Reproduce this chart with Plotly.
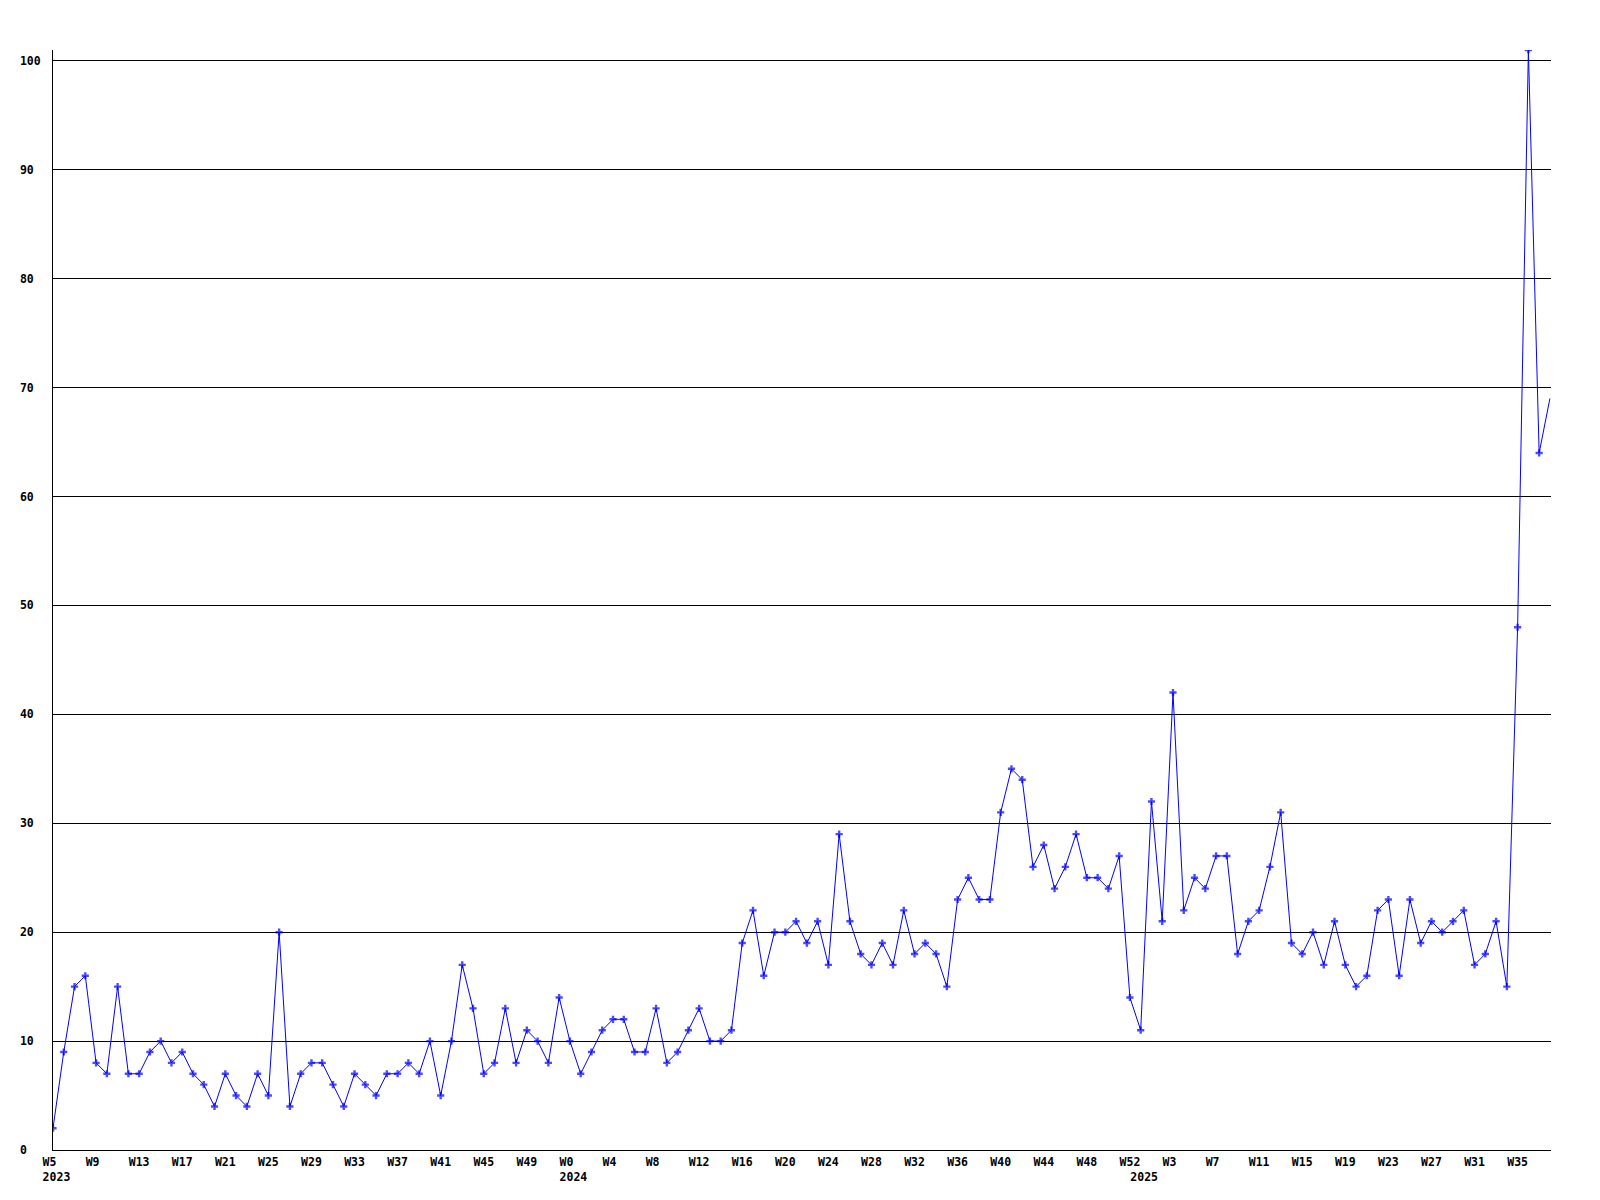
import plotly.graph_objects as go

# Weekly counts, 2023 W5 .. 2025 W38
counts = [
    2, 9, 15, 16, 8, 7, 15, 7, 7, 9, 10, 8, 9, 7, 6, 4, 7, 5, 4, 7,
    5, 20, 4, 7, 8, 8, 6, 4, 7, 6, 5, 7, 7, 8, 7, 10, 5, 10, 17, 13,
    7, 8, 13, 8, 11, 10, 8, 14, 10, 7, 9, 11, 12, 12, 9, 9, 13, 8, 9, 11,
    13, 10, 10, 11, 19, 22, 16, 20, 20, 21, 19, 21, 17, 29, 21, 18, 17, 19, 17, 22,
    18, 19, 18, 15, 23, 25, 23, 23, 31, 35, 34, 26, 28, 24, 26, 29, 25, 25, 24, 27,
    14, 11, 32, 21, 42, 22, 25, 24, 27, 27, 18, 21, 22, 26, 31, 19, 18, 20, 17, 21,
    17, 15, 16, 22, 23, 16, 23, 19, 21, 20, 21, 22, 17, 18, 21, 15, 48, 101, 64, 69,
]

years = [2023, 2024, 2025]
first_week = [5, 0, 0]
last_week = [52, 52, 38]
label_every = 4
y_ticks = [0, 10, 20, 30, 40, 50, 60, 70, 80, 90, 100]

NB = "\u00a0"

weeks = []
for yr, a, b in zip(years, first_week, last_week):
    for w in range(a, b + 1):
        weeks.append((yr, w))

x = list(range(len(counts)))

year_start = {}
for i, (yr, w) in enumerate(weeks):
    year_start.setdefault(yr, i)

lines = {}
for i in range(0, len(weeks), label_every):
    s = "W%d" % weeks[i][1]
    lines[i] = [s + NB * (3 - len(s)), None]
for yr, i in year_start.items():
    if i not in lines:
        lines[i] = [NB, None]
    lines[i][1] = NB + str(yr)

tickvals = sorted(lines)
ticktext = [lines[i][0] + ("<br>" + lines[i][1] if lines[i][1] else "") for i in tickvals]

ytext = [str(v) + NB * (3 - len(str(v))) for v in y_ticks]

sizes = [6] * (len(counts) - 1) + [0]

fig = go.Figure()
fig.add_trace(go.Scatter(
    x=x, y=counts, mode="lines+markers",
    line=dict(color="#0000ff", width=1),
    marker=dict(symbol="cross", size=sizes, color="#0000ff", line=dict(width=0)),
    hoverinfo="x+y",
))

tick_font = dict(family="DejaVu Sans Mono", size=11.5, color="black", weight="bold")

fig.update_layout(
    width=1592, height=1192,
    margin=dict(l=42, r=49, t=42, b=50),
    paper_bgcolor="white", plot_bgcolor="white",
    showlegend=False,
    xaxis=dict(
        range=[0, 139.1], tickvals=tickvals, ticktext=ticktext, tickangle=0,
        showgrid=False, zeroline=False, showline=True, linecolor="black", linewidth=1,
        ticks="", tickfont=tick_font, ticklabelstandoff=1,
    ),
    yaxis=dict(
        range=[0, 101], tickvals=y_ticks, ticktext=ytext,
        showgrid=True, gridcolor="black", gridwidth=1,
        zeroline=False, showline=True, linecolor="black", linewidth=1,
        ticks="", tickfont=tick_font, ticklabelstandoff=9,
    ),
)

fig.write_html("out.html")
